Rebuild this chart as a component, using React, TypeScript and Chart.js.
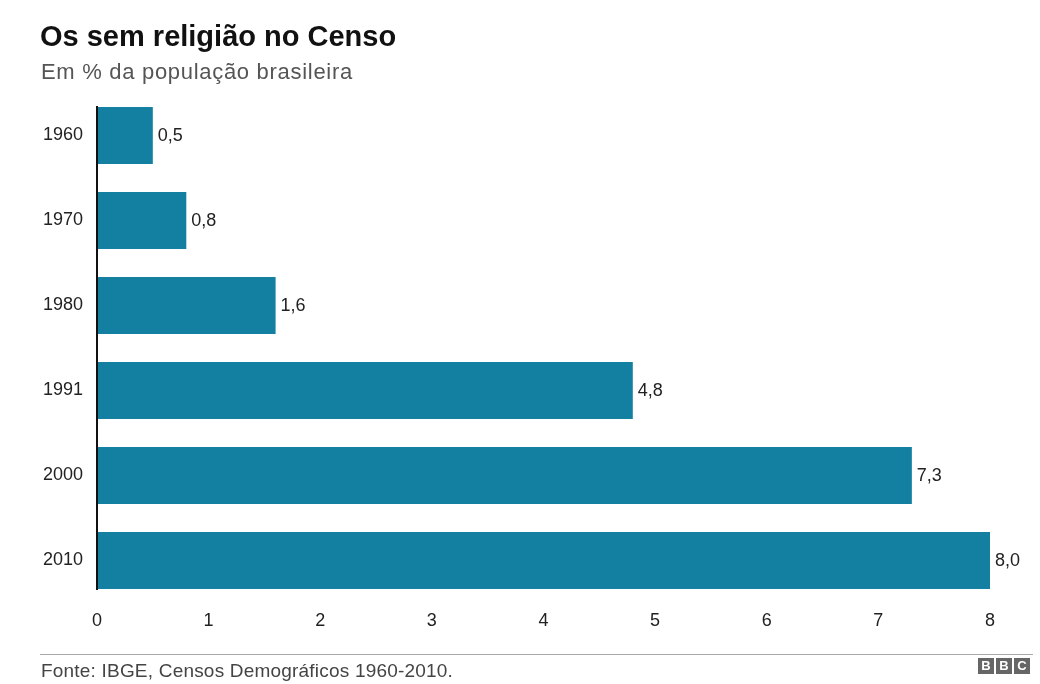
import React, { useEffect, useRef } from "react";
import { Chart, registerables } from "chart.js";

Chart.register(...registerables);

const categories = ["1960", "1970", "1980", "1991", "2000", "2010"];
const values = [0.5, 0.8, 1.6, 4.8, 7.3, 8.0];
const valueLabels = ["0,5", "0,8", "1,6", "4,8", "7,3", "8,0"];
const xTicks = [0, 1, 2, 3, 4, 5, 6, 7, 8];

const FONT = "'Liberation Sans', Arial, Helvetica, sans-serif";
const BAR_COLOR = "#1380A1";

const labelPlugin = {
  id: "valueLabels",
  afterDatasetsDraw(chart: any) {
    const ctx = chart.ctx;
    const meta = chart.getDatasetMeta(0);
    ctx.save();
    ctx.font = `18px ${FONT}`;
    ctx.fillStyle = "#222222";
    ctx.textBaseline = "middle";
    ctx.textAlign = "left";
    meta.data.forEach((bar: any, i: number) => {
      ctx.fillText(valueLabels[i], bar.x + 5, bar.y + 1);
    });
    // axis line spanning the bars
    const first = meta.data[0];
    const last = meta.data[meta.data.length - 1];
    const x0 = chart.scales.x.getPixelForValue(0);
    ctx.strokeStyle = "#111111";
    ctx.lineWidth = 2;
    ctx.beginPath();
    ctx.moveTo(x0, first.y - first.height / 2 - 1);
    ctx.lineTo(x0, last.y + last.height / 2 + 1);
    ctx.stroke();
    ctx.restore();
  },
};

function BarChart() {
  const ref = useRef<HTMLCanvasElement>(null);
  useEffect(() => {
    if (!ref.current) return;
    const chart = new Chart(ref.current, {
      type: "bar",
      data: {
        labels: categories,
        datasets: [
          {
            data: values,
            backgroundColor: BAR_COLOR,
            borderWidth: 0,
            categoryPercentage: 1,
            barPercentage: 0.67,
          },
        ],
      },
      options: {
        indexAxis: "y",
        animation: false,
        responsive: false,
        maintainAspectRatio: false,
        layout: { padding: { left: 0, right: 50, top: 93, bottom: 0 } },
        plugins: {
          legend: { display: false },
          tooltip: { enabled: false },
          title: { display: false },
        },
        scales: {
          x: {
            min: 0,
            max: 8,
            grid: { display: false, drawTicks: false },
            border: { display: false },
            afterBuildTicks(scale: any) {
              scale.ticks = xTicks.map((v) => ({ value: v }));
            },
            afterFit(scale: any) {
              scale.height = 81;
            },
            ticks: {
              padding: 7,
              color: "#222222",
              font: { family: FONT, size: 18 },
              maxRotation: 0,
              autoSkip: false,
            },
          },
          y: {
            grid: { display: false, drawTicks: false },
            border: { display: false },
            afterFit(scale: any) {
              scale.width = 97;
            },
            ticks: {
              padding: 14,
              color: "#222222",
              font: { family: FONT, size: 18 },
            },
          },
        },
      },
      plugins: [labelPlugin],
    });
    return () => chart.destroy();
  }, []);
  return (
    <canvas
      ref={ref}
      width={1040}
      height={684}
      style={{ position: "absolute", left: 0, top: 0, width: 1040, height: 684 }}
    />
  );
}

function BBCLogo() {
  const box: React.CSSProperties = {
    display: "inline-block",
    width: 16,
    height: 16,
    background: "#666666",
    color: "#ffffff",
    fontFamily: FONT,
    fontWeight: "bold",
    fontSize: 13,
    lineHeight: "16px",
    textAlign: "center",
    marginLeft: 2,
  };
  return (
    <div style={{ position: "absolute", left: 976, top: 658, display: "flex" }}>
      <span style={box}>B</span>
      <span style={box}>B</span>
      <span style={box}>C</span>
    </div>
  );
}

export default function App() {
  useEffect(() => {
    document.body.style.margin = "0";
  }, []);
  return (
    <div
      style={{
        position: "fixed",
        left: 0,
        top: 0,
        width: 1040,
        height: 684,
        background: "#ffffff",
        overflow: "hidden",
      }}
    >
      <BarChart />
      <div
        style={{
          position: "absolute",
          left: 40,
          top: 20,
          fontFamily: FONT,
          fontWeight: "bold",
          fontSize: 29,
          color: "#111111",
          whiteSpace: "nowrap",
        }}
      >
        Os sem religião no Censo
      </div>
      <div
        style={{
          position: "absolute",
          left: 41,
          top: 59,
          fontFamily: FONT,
          fontSize: 22,
          letterSpacing: 0.7,
          color: "#555555",
          whiteSpace: "nowrap",
        }}
      >
        Em % da população brasileira
      </div>
      <div
        style={{
          position: "absolute",
          left: 40,
          top: 654,
          width: 993,
          height: 1,
          background: "#aaaaaa",
        }}
      />
      <div
        style={{
          position: "absolute",
          left: 41,
          top: 660,
          fontFamily: FONT,
          fontSize: 19,
          letterSpacing: 0.2,
          color: "#444444",
          whiteSpace: "nowrap",
        }}
      >
        Fonte: IBGE, Censos Demográficos 1960-2010.
      </div>
      <BBCLogo />
    </div>
  );
}
